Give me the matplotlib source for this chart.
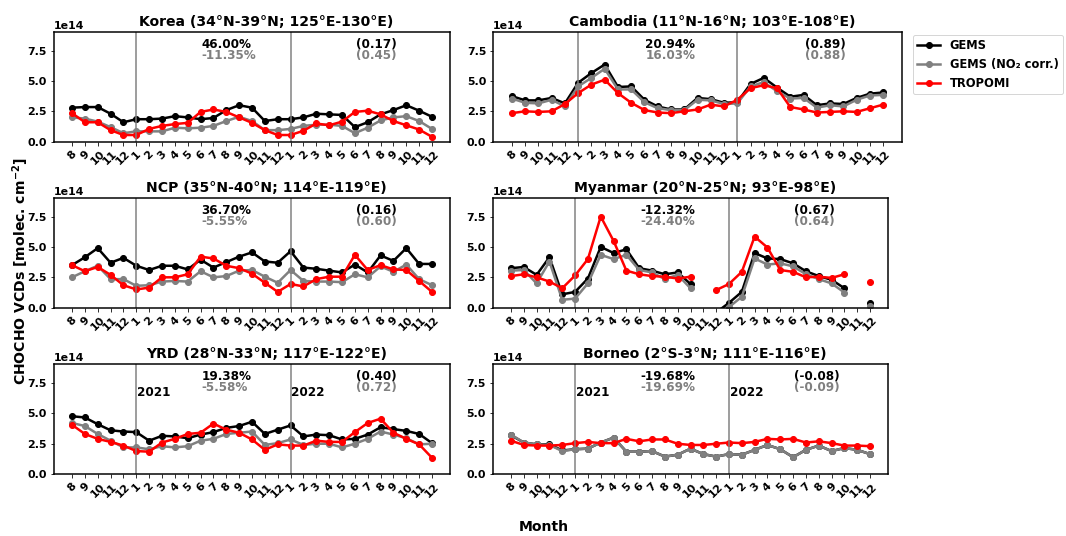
import numpy as np
import matplotlib
matplotlib.use("Agg")
import matplotlib.pyplot as plt

# monthly CHOCHO columns (x1e14 molec/cm2), Aug 2020 - Dec 2022
months = [8, 9, 10, 11, 12] + list(range(1, 13)) + list(range(1, 13))
nan = np.nan

korea_gems = [2.8, 2.85, 2.85, 2.3, 1.6, 1.85, 1.85, 1.9, 2.1, 2.0, 1.85, 1.95, 2.6, 3.0, 2.8,
              1.7, 1.85, 1.85, 2.0, 2.3, 2.25, 2.2, 1.2, 1.6, 2.25, 2.6, 3.0, 2.55, 2.05]
korea_corr = [2.0, 1.9, 1.65, 1.2, 0.7, 0.85, 0.85, 0.85, 1.15, 1.1, 1.15, 1.3, 1.7, 2.05, 1.7,
              0.95, 0.95, 1.05, 1.3, 1.4, 1.4, 1.3, 0.7, 1.15, 1.75, 2.0, 2.1, 1.7, 1.05]
korea_trop = [2.35, 1.6, 1.6, 0.95, 0.55, 0.55, 1.05, 1.3, 1.45, 1.55, 2.45, 2.65, 2.45, 2.0, 1.55,
              0.95, 0.55, 0.55, 0.9, 1.5, 1.35, 1.65, 2.45, 2.55, 2.25, 1.7, 1.35, 1.0, 0.4]

camb_gems = [3.75, 3.4, 3.4, 3.6, 3.15, 4.85, 5.65, 6.35, 4.5, 4.55, 3.45, 2.9, 2.65, 2.65, 3.6,
             3.5, 3.2, 3.25, 4.75, 5.25, 4.45, 3.7, 3.85, 3.0, 3.15, 3.1, 3.6, 3.95, 4.05]
camb_corr = [3.55, 3.2, 3.15, 3.45, 2.9, 4.55, 5.25, 6.0, 4.3, 4.3, 3.25, 2.75, 2.6, 2.6, 3.45,
             3.4, 3.1, 3.15, 4.55, 4.9, 4.15, 3.55, 3.6, 2.8, 3.0, 2.9, 3.45, 3.8, 3.85]
camb_trop = [2.35, 2.5, 2.45, 2.5, 3.1, 4.0, 4.7, 5.1, 4.0, 3.2, 2.6, 2.4, 2.35, 2.5, 2.65,
             3.05, 2.9, 3.45, 4.4, 4.65, 4.4, 2.85, 2.65, 2.4, 2.45, 2.5, 2.45, 2.75, 3.05]

ncp_gems = [3.5, 4.15, 4.9, 3.7, 4.1, 3.45, 3.1, 3.45, 3.45, 3.15, 3.95, 3.3, 3.75, 4.2, 4.55,
            3.8, 3.7, 4.65, 3.3, 3.2, 3.05, 2.9, 3.55, 2.9, 4.3, 3.85, 4.9, 3.6, 3.6]
ncp_corr = [2.5, 3.0, 3.45, 2.35, 2.35, 1.8, 1.85, 2.15, 2.2, 2.15, 3.0, 2.5, 2.6, 3.05, 3.1,
            2.55, 2.05, 3.1, 2.2, 2.15, 2.15, 2.1, 2.75, 2.5, 3.4, 2.95, 3.55, 2.35, 1.85]
ncp_trop = [3.5, 3.0, 3.35, 2.7, 1.85, 1.5, 1.65, 2.5, 2.5, 2.75, 4.2, 4.05, 3.45, 3.25, 2.8,
            2.05, 1.3, 1.95, 1.75, 2.35, 2.55, 2.55, 4.35, 3.1, 3.5, 3.15, 3.1, 2.2, 1.3]

myan_gems = [3.25, 3.35, 2.7, 4.15, 1.1, 1.3, 2.4, 5.0, 4.5, 4.8, 3.25, 3.05, 2.75, 2.9, 1.95,
             nan, -0.4, 0.4, 1.3, 4.5, 4.05, 4.0, 3.65, 3.0, 2.6, 2.3, 1.6, nan, 0.35]
myan_corr = [3.05, 3.1, 2.0, 3.8, 0.65, 0.75, 2.0, 4.35, 4.0, 4.35, 3.1, 2.9, 2.35, 2.7, 1.6,
             nan, -0.9, 0.05, 0.9, 4.05, 3.55, 3.65, 3.4, 2.75, 2.35, 2.0, 1.25, nan, 0.1]
myan_trop = [2.6, 2.75, 2.5, 2.15, 1.6, 2.65, 4.0, 7.5, 5.5, 3.05, 2.75, 2.6, 2.55, 2.4, 2.55,
             nan, 1.45, 1.95, 2.95, 5.85, 4.95, 3.1, 2.95, 2.5, 2.55, 2.45, 2.75, nan, 2.15]

yrd_gems = [4.75, 4.65, 4.1, 3.6, 3.5, 3.45, 2.75, 3.15, 3.1, 2.95, 3.25, 3.45, 3.8, 3.95, 4.3,
            3.3, 3.65, 4.0, 3.1, 3.25, 3.2, 2.85, 2.9, 3.25, 3.85, 3.7, 3.55, 3.3, 2.55]
yrd_corr = [4.2, 3.95, 3.3, 2.75, 2.2, 2.2, 2.05, 2.3, 2.2, 2.3, 2.75, 2.9, 3.3, 3.4, 3.5,
            2.4, 2.55, 2.85, 2.4, 2.5, 2.5, 2.2, 2.5, 2.9, 3.5, 3.25, 2.95, 2.45, 2.5]
yrd_trop = [4.05, 3.3, 2.9, 2.65, 2.35, 1.9, 1.85, 2.6, 2.9, 3.3, 3.4, 4.15, 3.65, 3.4, 2.85,
            2.0, 2.45, 2.35, 2.35, 2.75, 2.65, 2.65, 3.45, 4.2, 4.55, 3.4, 2.9, 2.45, 1.35]

born_gems = [3.2, 2.6, 2.45, 2.45, 1.95, 2.05, 2.1, 2.6, 3.0, 1.85, 1.85, 1.9, 1.45, 1.6, 2.1,
             1.65, 1.45, 1.65, 1.6, 2.0, 2.4, 2.05, 1.4, 2.0, 2.35, 1.9, 2.15, 2.0, 1.65]
born_corr = [3.25, 2.6, 2.45, 2.4, 1.9, 2.05, 2.1, 2.6, 3.0, 1.85, 1.85, 1.9, 1.45, 1.6, 2.1,
             1.65, 1.45, 1.65, 1.6, 2.0, 2.4, 2.05, 1.4, 2.0, 2.35, 1.9, 2.15, 2.0, 1.65]
born_trop = [2.75, 2.4, 2.35, 2.35, 2.4, 2.55, 2.65, 2.55, 2.55, 2.9, 2.7, 2.85, 2.85, 2.5, 2.4,
             2.4, 2.5, 2.6, 2.55, 2.65, 2.9, 2.85, 2.9, 2.6, 2.7, 2.55, 2.35, 2.35, 2.3]

regions = ["Korea (34°N-39°N; 125°E-130°E)", "Cambodia (11°N-16°N; 103°E-108°E)",
           "NCP (35°N-40°N; 114°E-119°E)", "Myanmar (20°N-25°N; 93°E-98°E)",
           "YRD (28°N-33°N; 117°E-122°E)", "Borneo (2°S-3°N; 111°E-116°E)"]
gems = [korea_gems, camb_gems, ncp_gems, myan_gems, yrd_gems, born_gems]
gems_corr = [korea_corr, camb_corr, ncp_corr, myan_corr, yrd_corr, born_corr]
tropomi = [korea_trop, camb_trop, ncp_trop, myan_trop, yrd_trop, born_trop]
pct_gems = ["46.00%", "20.94%", "36.70%", "-12.32%", "19.38%", "-19.68%"]
pct_corr = ["-11.35%", "16.03%", "-5.55%", "-24.40%", "-5.58%", "-19.69%"]
r_gems = ["(0.17)", "(0.89)", "(0.16)", "(0.67)", "(0.40)", "(-0.08)"]
r_corr = ["(0.45)", "(0.88)", "(0.60)", "(0.64)", "(0.72)", "(-0.09)"]

plt.rcParams["font.weight"] = "bold"
plt.rcParams["axes.linewidth"] = 1.5

W, H = 1066, 536
fig = plt.figure(figsize=(W / 72, H / 72), dpi=72)

# panel boxes in pixels: left, top, right, bottom
boxes = [(54, 32.3, 450, 141.7), (493.3, 32.3, 901.7, 141.7),
         (54, 198.3, 450, 307.7), (493, 198.3, 888, 307.7),
         (54, 364.3, 450, 474.3), (493, 364.3, 888, 474.3)]

x = np.arange(len(months))
for i, (l, t, r, b) in enumerate(boxes):
    ax = fig.add_axes([l / W, 1 - b / H, (r - l) / W, (b - t) / H])
    ax.plot(x, np.array(gems[i]) * 1e14, "-o", color="black", lw=2.5, ms=6, label="GEMS")
    ax.plot(x, np.array(gems_corr[i]) * 1e14, "-o", color="gray", lw=2.5, ms=6,
            label="GEMS (NO₂ corr.)")
    ax.plot(x, np.array(tropomi[i]) * 1e14, "-o", color="red", lw=2.5, ms=6, label="TROPOMI")
    ax.axvline(5, color="gray", lw=1.5)
    ax.axvline(17, color="gray", lw=1.5)
    ax.set_ylim(0, 9e14)
    ax.set_yticks([0, 2.5e14, 5e14, 7.5e14])
    ax.set_xticks(x)
    ax.set_xticklabels(months, rotation=45)
    ax.tick_params(labelsize=11)
    ax.yaxis.get_offset_text().set_fontsize(11)
    ax.yaxis.get_offset_text().set_fontweight("bold")
    ax.set_title(regions[i], fontsize=14, fontweight="bold", x=0.536)

    ax.text(0.372, 0.89, pct_gems[i], transform=ax.transAxes, color="black",
            fontsize=12, fontweight="bold", ha="left", va="center")
    ax.text(0.372, 0.79, pct_corr[i], transform=ax.transAxes, color="gray",
            fontsize=12, fontweight="bold", ha="left", va="center")
    ax.text(0.763, 0.89, r_gems[i], transform=ax.transAxes, color="black",
            fontsize=12, fontweight="bold", ha="left", va="center")
    ax.text(0.763, 0.79, r_corr[i], transform=ax.transAxes, color="gray",
            fontsize=12, fontweight="bold", ha="left", va="center")
    if i >= 4:
        ax.text(5.05, 6.66e14, "2021", fontsize=12, fontweight="bold", va="center")
        ax.text(17.05, 6.66e14, "2022", fontsize=12, fontweight="bold", va="center")
    if i == 1:
        handles, labels = ax.get_legend_handles_labels()

fig.legend(handles, labels, loc="upper left", bbox_to_anchor=(907 / W, 1 - 29 / H),
           prop={"size": 11.5, "weight": "bold"})
fig.text(21 / W, 0.494, "CHOCHO VCDs [molec. cm$^{-2}$]", rotation=90,
         ha="center", va="center", fontsize=14, fontweight="bold")
fig.text(0.51, 0.016, "Month", ha="center", va="center", fontsize=14, fontweight="bold")

fig.savefig("out.png", dpi=72)
